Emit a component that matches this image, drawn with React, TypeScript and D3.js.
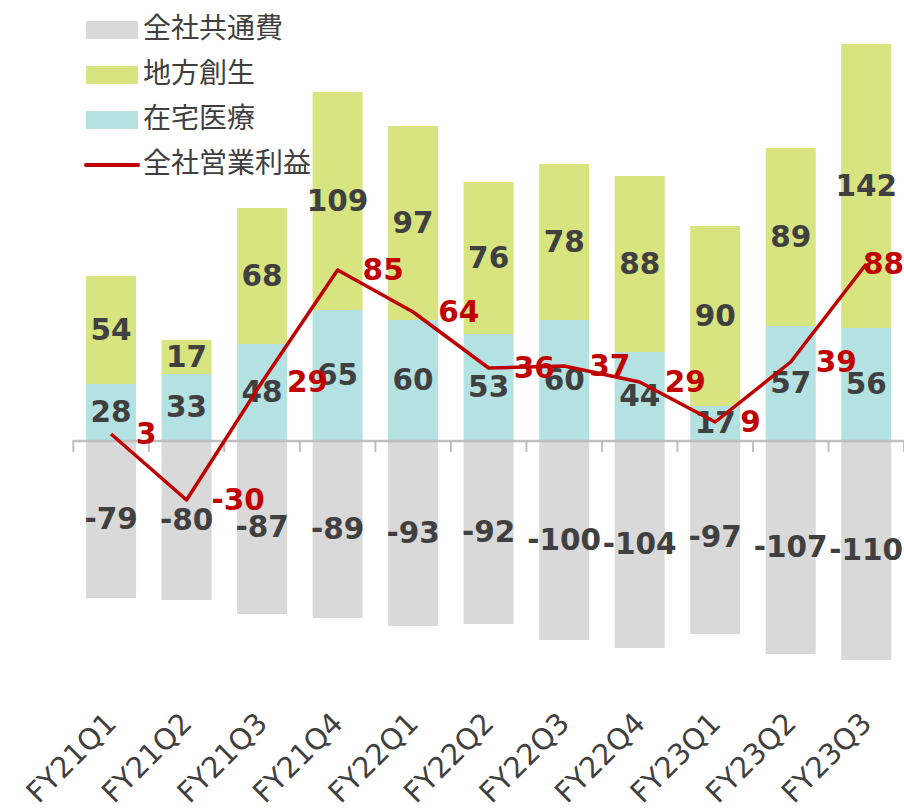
import React from "react";
import * as d3 from "d3";

const categories = ["FY21Q1","FY21Q2","FY21Q3","FY21Q4","FY22Q1","FY22Q2","FY22Q3","FY22Q4","FY23Q1","FY23Q2","FY23Q3"];
const homeCare = [28, 33, 48, 65, 60, 53, 60, 44, 17, 57, 56];
const regional = [54, 17, 68, 109, 97, 76, 78, 88, 90, 89, 142];
const corporate = [-79, -80, -87, -89, -93, -92, -100, -104, -97, -107, -110];
const opProfit = [3, -30, 29, 85, 64, 36, 37, 29, 9, 39, 88];
const legendLabels = ["全社共通費", "地方創生", "在宅医療", "全社営業利益"];

const W = 904, H = 809;
const C_TEAL = "#b4e1e2", C_GREEN = "#d7e480", C_GRAY = "#d9d9d9", C_RED = "#c00000", C_TXT = "#404040";
const NUM_FONT = "'DejaVu Sans', Verdana, sans-serif";

export default function App() {
  const x = d3.scaleBand<string>().domain(categories).range([73.3, 904]).padding(0);
  const y = d3.scaleLinear().domain([-120, 200]).range([680, 40]);
  const step = x.step();
  const bw = 50;
  const cx = (c: string) => (x(c) as number) + step / 2;
  const y0 = y(0);

  const line = d3.line<number>().x((_, i) => cx(categories[i])).y((v) => y(v));
  const labelW = (v: number) => String(v).length * 0.696 * 29.5;

  const legendRows = [
    { label: legendLabels[0], color: C_GRAY, type: "rect" },
    { label: legendLabels[1], color: C_GREEN, type: "rect" },
    { label: legendLabels[2], color: C_TEAL, type: "rect" },
    { label: legendLabels[3], color: C_RED, type: "line" },
  ];

  return (
    <svg width={W} height={H} style={{ position: "absolute", left: 0, top: 0, background: "#fff" }}>
      {categories.map((c, i) => {
        const bx = cx(c) - bw / 2;
        const tTop = y(homeCare[i]);
        const gTop = y(homeCare[i] + regional[i]);
        return (
          <g key={c}>
            <rect x={bx} y={tTop} width={bw} height={y0 - tTop} fill={C_TEAL} />
            <rect x={bx} y={gTop} width={bw} height={tTop - gTop} fill={C_GREEN} />
            <rect x={bx} y={y0} width={bw} height={y(corporate[i]) - y0} fill={C_GRAY} />
          </g>
        );
      })}
      <line x1={73.3} x2={904} y1={y0 + 1} y2={y0 + 1} stroke="#bfbfbf" strokeWidth={2.5} />
      {d3.range(categories.length + 1).map((k) => {
        const tx = 73.3 + k * step;
        return <line key={k} x1={tx} x2={tx} y1={y0} y2={y0 + 12} stroke="#bfbfbf" strokeWidth={2} />;
      })}
      {categories.map((c, i) => {
        const tTop = y(homeCare[i]);
        const gTop = y(homeCare[i] + regional[i]);
        return (
          <g key={"l" + c} fontFamily={NUM_FONT} fontWeight="bold" fontSize={29.5} fill={C_TXT} textAnchor="middle">
            <text x={cx(c)} y={(tTop + y0) / 2} dominantBaseline="central">{homeCare[i]}</text>
            <text x={cx(c)} y={(gTop + tTop) / 2} dominantBaseline="central">{regional[i]}</text>
            <text x={cx(c)} y={(y0 + y(corporate[i])) / 2} dominantBaseline="central">{corporate[i]}</text>
          </g>
        );
      })}
      <path d={line(opProfit) || ""} fill="none" stroke={C_RED} strokeWidth={3.5} strokeLinejoin="round" />
      {categories.map((c, i) => {
        let lx = cx(c) + 25;
        const w = labelW(opProfit[i]);
        if (lx + w > W) lx = W - w;
        return (
          <text key={"r" + c} x={lx} y={y(opProfit[i])} dominantBaseline="central" fontFamily={NUM_FONT}
            fontWeight="bold" fontSize={29.5} fill={C_RED}>{opProfit[i]}</text>
        );
      })}
      {categories.map((c) => (
        <text key={"c" + c} transform={`translate(${cx(c) + 7},${725}) rotate(-45)`} textAnchor="end"
          fontFamily={NUM_FONT} fontSize={29} fill={C_TXT}>{c}</text>
      ))}
      {legendRows.map((r, k) => {
        const cy = 30 + k * 45;
        return (
          <g key={"lg" + k}>
            {r.type === "rect" ? (
              <rect x={86} y={cy - 9} width={52} height={18} fill={r.color} />
            ) : (
              <line x1={86} x2={138} y1={cy} y2={cy} stroke={r.color} strokeWidth={4} strokeLinecap="round" />
            )}
            <text x={143} y={cy - 4} dominantBaseline="central" fontFamily="'Noto Sans CJK JP', sans-serif"
              fontSize={28} fill={C_TXT}>{r.label}</text>
          </g>
        );
      })}
    </svg>
  );
}
